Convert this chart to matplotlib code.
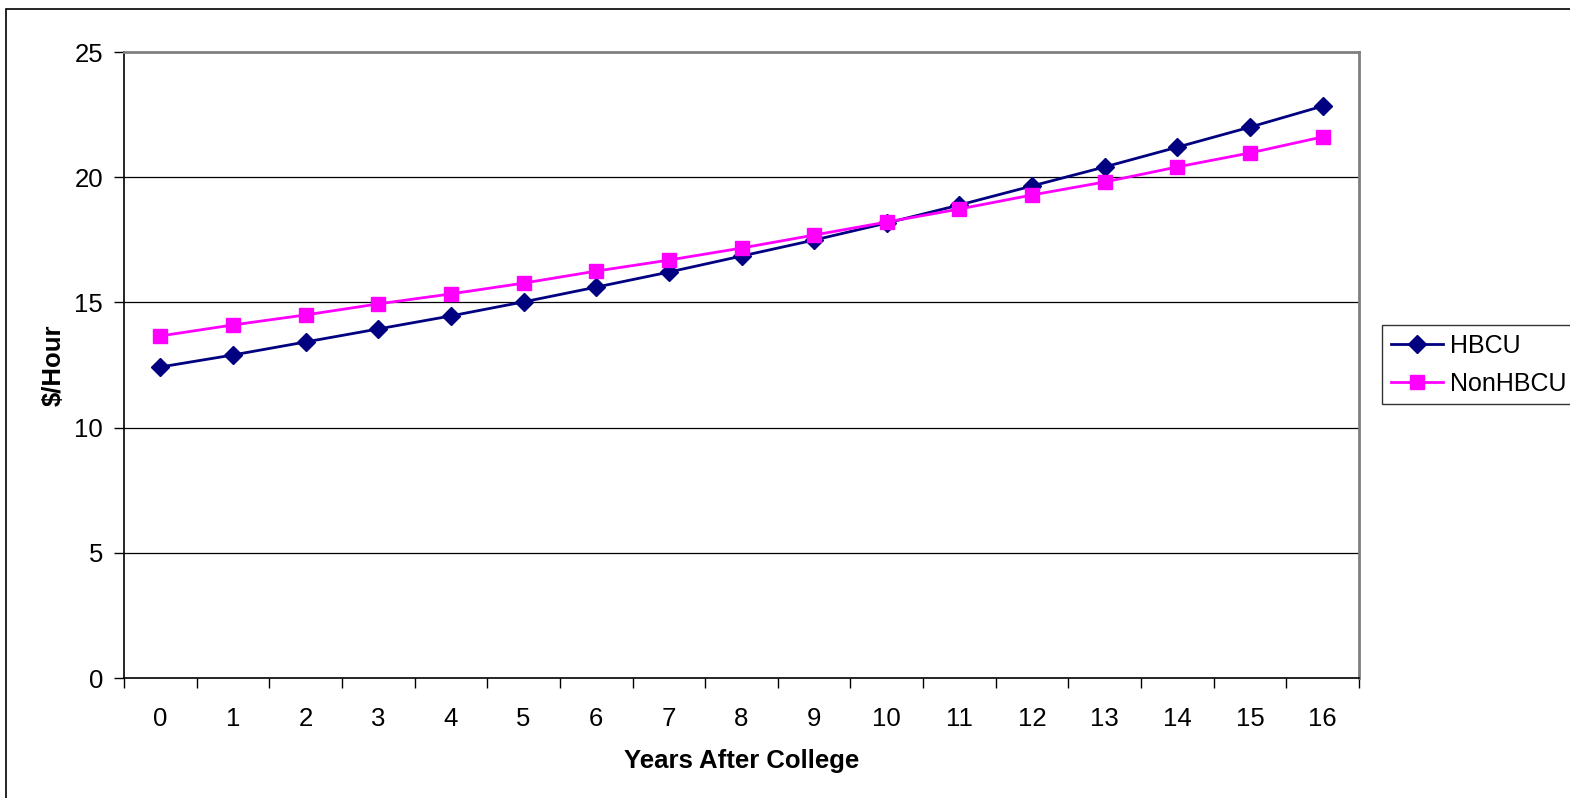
import matplotlib
matplotlib.use("Agg")
import matplotlib.pyplot as plt
from matplotlib.patches import Rectangle

years = list(range(17))
hbcu = [12.42, 12.90, 13.42, 13.94, 14.46, 15.02, 15.61, 16.21, 16.85, 17.49,
        18.17, 18.89, 19.65, 20.41, 21.20, 22.00, 22.84]
nonhbcu = [13.66, 14.10, 14.50, 14.94, 15.34, 15.77, 16.25, 16.69, 17.17, 17.69,
           18.21, 18.73, 19.29, 19.81, 20.41, 20.97, 21.61]
yticks = [0, 5, 10, 15, 20, 25]

plt.rcParams['font.family'] = ['Liberation Sans', 'DejaVu Sans']

W, H = 1570, 798
fig = plt.figure(figsize=(W / 100, H / 100), dpi=100)
ax = fig.add_axes([124 / W, 1 - 678 / H, (1359 - 124) / W, (678 - 52) / H])

ax.plot(years, hbcu, color='#000080', lw=2.0, marker='D', ms=9.5,
        markeredgecolor='#000080', label='HBCU', zorder=3)
ax.plot(years, nonhbcu, color='#FF00FF', lw=2.0, marker='s', ms=10.5,
        markeredgecolor='#FF00FF', label='NonHBCU', zorder=3)

ax.set_xlim(-0.5, 16.5)
ax.set_ylim(0, 25)
ax.set_yticks(yticks)
ax.set_xticks(years)
ax.set_xticks([i - 0.5 for i in range(18)], minor=True)
ax.tick_params(axis='x', which='major', length=0, pad=21, labelsize=18.5)
ax.tick_params(axis='x', which='minor', length=7, width=1, color='#000000', direction='out')
ax.tick_params(axis='y', length=7, width=1, direction='out', pad=8, labelsize=18.5)
for y in yticks[1:-1]:
    ax.axhline(y, color='#000000', lw=0.9, zorder=1)

for s in ['top', 'right']:
    ax.spines[s].set_color('#808080')
    ax.spines[s].set_linewidth(2)
ax.spines['left'].set_color('#000000')
ax.spines['left'].set_linewidth(1.2)
ax.spines['bottom'].set_color('#000000')
ax.spines['bottom'].set_linewidth(1.2)

ax.set_xlabel('Years After College', fontsize=18.5, fontweight='bold', labelpad=13)
ax.set_ylabel('$/Hour', fontsize=18.5, fontweight='bold', labelpad=6)

leg = fig.legend(loc='upper left', bbox_to_anchor=(1382 / W, 1 - 325 / H),
                 bbox_transform=fig.transFigure, fontsize=18, frameon=True,
                 fancybox=False, edgecolor='#000000', borderpad=0.35,
                 handlelength=2.1, handletextpad=0.25, labelspacing=0.55,
                 borderaxespad=0)
leg.get_frame().set_linewidth(1.0)

fig.patches.append(Rectangle((6 / W, -0.1), 1.2, 1 - 9 / H + 0.1,
                             transform=fig.transFigure, fill=False,
                             edgecolor='#000000', lw=1.2, zorder=0))

fig.savefig('out.png', dpi=100)
